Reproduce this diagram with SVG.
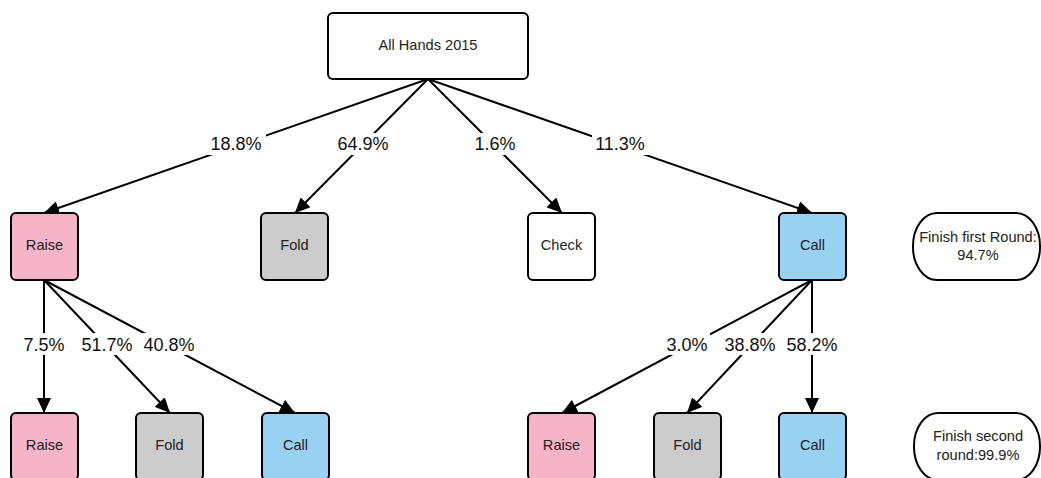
<svg xmlns="http://www.w3.org/2000/svg" width="1041" height="478" viewBox="0 0 1041 478">
<style>
.node{stroke:#000;stroke-width:2}
.white{fill:#fff}
.pink{fill:#F5B4C8}
.gray{fill:#CCCCCC}
.blue{fill:#99D1F2}
.t{font-family:"Liberation Sans",Arial,sans-serif;font-size:14.6px;fill:#222;text-anchor:middle;dominant-baseline:central}
.lbl{font-family:"Liberation Sans",Arial,sans-serif;font-size:18px;fill:#111;text-anchor:middle;dominant-baseline:central}
.edge{stroke:#000;stroke-width:2;fill:none;marker-end:url(#arr)}
.bg{fill:#fff}
</style>
<defs>
<marker id="arr" markerUnits="userSpaceOnUse" markerWidth="16" markerHeight="14" refX="15" refY="7" orient="auto">
<path d="M0,0 L15,7 L0,14 Z" fill="#000"/>
</marker>
</defs>
<g id="connectors">
<line class="edge" x1="428" y1="79" x2="44" y2="213"/>
<line class="edge" x1="428" y1="79" x2="295" y2="213"/>
<line class="edge" x1="428" y1="79" x2="562" y2="213"/>
<line class="edge" x1="428" y1="79" x2="812" y2="213"/>
<line class="edge" x1="44" y1="280" x2="44" y2="413"/>
<line class="edge" x1="44" y1="280" x2="170" y2="413"/>
<line class="edge" x1="44" y1="280" x2="295" y2="413"/>
<line class="edge" x1="812" y1="280" x2="562" y2="413"/>
<line class="edge" x1="812" y1="280" x2="687" y2="413"/>
<line class="edge" x1="812" y1="280" x2="812" y2="413"/>
<rect class="bg" x="208" y="133" width="58" height="22"/>
<text class="lbl" x="236" y="144">18.8%</text>
<rect class="bg" x="334" y="133" width="58" height="22"/>
<text class="lbl" x="363" y="144">64.9%</text>
<rect class="bg" x="471" y="133" width="48" height="22"/>
<text class="lbl" x="495" y="144">1.6%</text>
<rect class="bg" x="592" y="133" width="58" height="22"/>
<text class="lbl" x="620" y="144">11.3%</text>
<rect class="bg" x="21" y="333" width="46" height="22"/>
<text class="lbl" x="44" y="345">7.5%</text>
<rect class="bg" x="78" y="333" width="58" height="22"/>
<text class="lbl" x="107" y="345">51.7%</text>
<rect class="bg" x="140" y="333" width="58" height="22"/>
<text class="lbl" x="169" y="345">40.8%</text>
<rect class="bg" x="664" y="333" width="46" height="22"/>
<text class="lbl" x="687" y="345">3.0%</text>
<rect class="bg" x="721" y="333" width="58" height="22"/>
<text class="lbl" x="750" y="345">38.8%</text>
<rect class="bg" x="783" y="333" width="58" height="22"/>
<text class="lbl" x="812" y="345">58.2%</text>
</g>
<g id="n-top"><rect class="node white" x="328" y="13" width="200" height="66" rx="5"/><text class="t" x="428" y="45">All Hands 2015</text></g>
<g id="n-raise1"><rect class="node pink" x="11" y="213" width="67" height="67" rx="5"/><text class="t" x="44.5" y="244.5">Raise</text></g>
<g id="n-fold1"><rect class="node gray" x="261" y="213" width="67" height="67" rx="5"/><text class="t" x="294.5" y="244.5">Fold</text></g>
<g id="n-check1"><rect class="node white" x="528" y="213" width="67" height="67" rx="5"/><text class="t" x="561.5" y="244.5">Check</text></g>
<g id="n-call1"><rect class="node blue" x="779" y="213" width="67" height="67" rx="5"/><text class="t" x="812.5" y="244.5">Call</text></g>
<g id="n-finish1"><rect class="node white" x="913" y="213" width="127" height="67" rx="24" ry="33"/><text class="t" x="978" y="237">Finish first Round:</text><text class="t" x="978" y="255">94.7%</text></g>
<g id="n-raise2a"><rect class="node pink" x="11" y="413" width="67" height="67" rx="5"/><text class="t" x="44.5" y="444.5">Raise</text></g>
<g id="n-fold2a"><rect class="node gray" x="136" y="413" width="67" height="67" rx="5"/><text class="t" x="169.5" y="444.5">Fold</text></g>
<g id="n-call2a"><rect class="node blue" x="262" y="413" width="67" height="67" rx="5"/><text class="t" x="295.5" y="444.5">Call</text></g>
<g id="n-raise2b"><rect class="node pink" x="528" y="413" width="67" height="67" rx="5"/><text class="t" x="561.5" y="444.5">Raise</text></g>
<g id="n-fold2b"><rect class="node gray" x="654" y="413" width="67" height="67" rx="5"/><text class="t" x="687.5" y="444.5">Fold</text></g>
<g id="n-call2b"><rect class="node blue" x="779" y="413" width="67" height="67" rx="5"/><text class="t" x="812.5" y="444.5">Call</text></g>
<g id="n-finish2"><rect class="node white" x="914" y="413" width="126" height="67" rx="24" ry="33"/><text class="t" x="978" y="436">Finish second</text><text class="t" x="978" y="455">round:99.9%</text></g>
</svg>
